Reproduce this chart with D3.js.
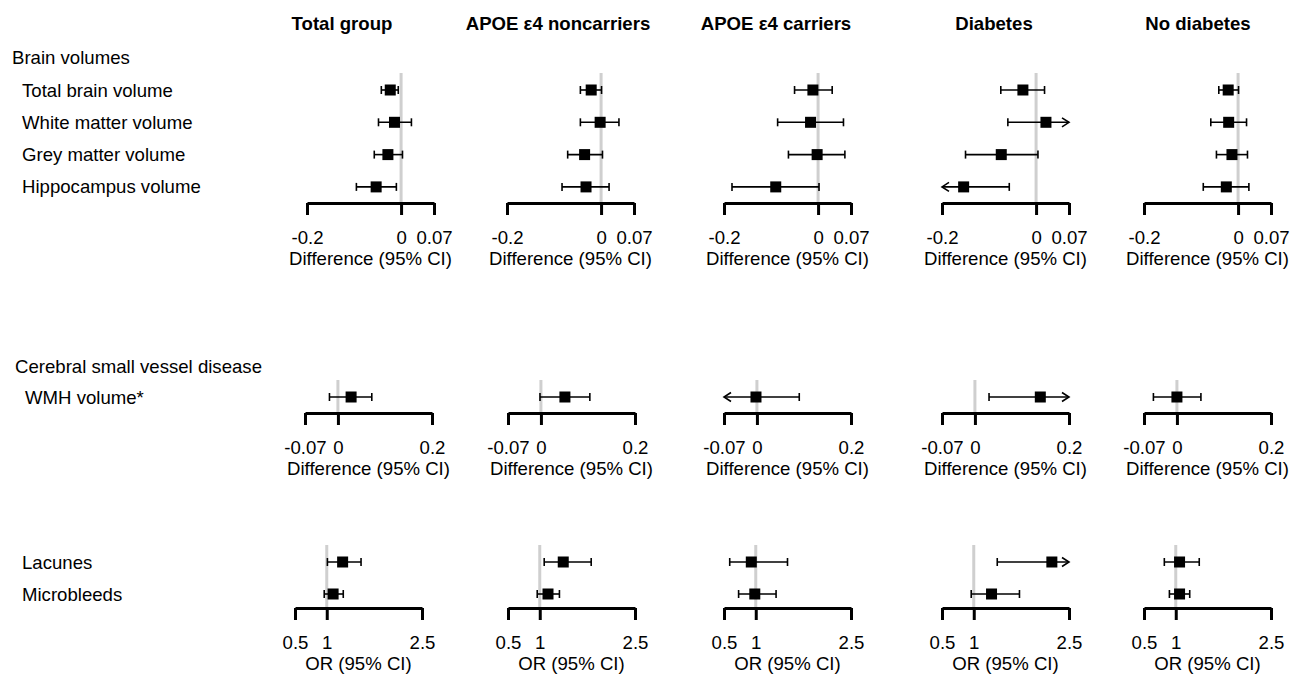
<!DOCTYPE html>
<html>
<head>
<meta charset="utf-8">
<script src="https://cdn.jsdelivr.net/npm/d3@7/dist/d3.min.js"></script>
<style>
  body { margin: 0; background: #fff; }
  text { font-family: "Liberation Sans", Arial, sans-serif; font-size: 18.6px; fill: #000; }
</style>
</head>
<body>
<script>
var width = 1301,
    height = 677;

// column groups
var groups = ["Total group", "APOE ε4 noncarriers", "APOE ε4 carriers", "Diabetes", "No diabetes"];

// brain volumes: one array per group, rows in brainRows order
var brainRows = ["Total brain volume", "White matter volume", "Grey matter volume", "Hippocampus volume"];
var brainEst = [
    [-0.023, -0.014, -0.028, -0.053],
    [-0.021, -0.002, -0.035, -0.032],
    [-0.011, -0.016, -0.002, -0.090],
    [-0.028, 0.021, -0.074, -0.154],
    [-0.021, -0.020, -0.013, -0.025]
];
var brainLo = [
    [-0.042, -0.048, -0.057, -0.095],
    [-0.044, -0.044, -0.071, -0.083],
    [-0.050, -0.086, -0.063, -0.183],
    [-0.075, -0.060, -0.150, -0.260],
    [-0.041, -0.058, -0.046, -0.074]
];
var brainHi = [
    [-0.006, 0.022, 0.003, -0.010],
    [0.001, 0.038, 0.003, 0.017],
    [0.030, 0.054, 0.057, 0.002],
    [0.018, 0.110, 0.004, -0.057],
    [0.001, 0.018, 0.020, 0.023]
];
var brainTicks = [-0.2, 0, 0.07];

// small vessel disease: WMH volume
var wmhRows = ["WMH volume*"];
var wmhEst = [[0.028], [0.051], [-0.002], [0.139], [0.000]];
var wmhLo = [[-0.018], [-0.002], [-0.090], [0.030], [-0.050]];
var wmhHi = [[0.072], [0.104], [0.090], [0.250], [0.051]];
var wmhTicks = [-0.07, 0, 0.2];

// lacunes and microbleeds (odds ratios)
var orRows = ["Lacunes", "Microbleeds"];
var orEst = [[1.25, 1.10], [1.37, 1.13], [0.93, 0.985], [2.23, 1.28], [1.06, 1.06]];
var orLo = [[1.01, 0.96], [1.07, 0.96], [0.59, 0.73], [1.37, 0.96], [0.82, 0.90]];
var orHi = [[1.54, 1.26], [1.81, 1.31], [1.50, 1.32], [2.90, 1.72], [1.37, 1.22]];
var orTicks = [0.5, 1, 2.5];

var titleCenters = [342, 558, 776, 994, 1198];
var panelWidth = 127;

var sections = [
    { heading: "Brain volumes", headX: 12, headY: 64, rows: brainRows, firstY: 90, step: 32.3, labelX: 22,
      est: brainEst, lo: brainLo, hi: brainHi, ticks: brainTicks, ref: 0, axisY: 203,
      xlab: "Difference (95% CI)", lefts: [307, 507, 724, 942, 1144] },
    { heading: "Cerebral small vessel disease", headX: 15, headY: 373, rows: wmhRows, firstY: 397, step: 32, labelX: 25,
      est: wmhEst, lo: wmhLo, hi: wmhHi, ticks: wmhTicks, ref: 0, axisY: 413,
      xlab: "Difference (95% CI)", lefts: [305, 508, 724, 942, 1144] },
    { heading: null, rows: orRows, firstY: 562, step: 32, labelX: 22,
      est: orEst, lo: orLo, hi: orHi, ticks: orTicks, ref: 1, axisY: 608,
      xlab: "OR (95% CI)", lefts: [295, 508, 724, 942, 1144] }
];

var svg = d3.select("body")
    .append("svg")
    .attr("width", width)
    .attr("height", height);

// column titles
svg.append("g")
    .selectAll("text")
    .data(groups)
    .enter().append("text")
    .attr("x", function (d, i) { return titleCenters[i]; })
    .attr("y", 30)
    .attr("text-anchor", "middle")
    .style("font-weight", "bold")
    .text(function (d) { return d; });

sections.forEach(function (s) {
    var y = d3.scalePoint()
        .domain(s.rows)
        .range([s.firstY, s.firstY + s.step * (s.rows.length - 1)]);

    if (s.heading) {
        svg.append("text")
            .attr("x", s.headX)
            .attr("y", s.headY)
            .text(s.heading);
    }

    svg.append("g")
        .selectAll("text")
        .data(s.rows)
        .enter().append("text")
        .attr("x", s.labelX)
        .attr("y", function (d) { return y(d) + 6.5; })
        .text(function (d) { return d; });

    groups.forEach(function (g, gi) {
        var x = d3.scaleLinear()
            .domain([s.ticks[0], s.ticks[s.ticks.length - 1]])
            .range([s.lefts[gi], s.lefts[gi] + panelWidth]);
        var lo = x.domain()[0], hi = x.domain()[1];

        var panel = svg.append("g");

        // reference line
        panel.append("line")
            .attr("x1", x(s.ref)).attr("x2", x(s.ref))
            .attr("y1", s.firstY - 17).attr("y2", s.axisY)
            .style("stroke", "#cfcfcf")
            .style("stroke-width", 3);

        var rows = s.rows.map(function (r, ri) {
            return { name: r, est: s.est[gi][ri], lo: s.lo[gi][ri], hi: s.hi[gi][ri] };
        });

        var row = panel.selectAll(".row")
            .data(rows)
            .enter().append("g")
            .attr("class", "row");

        row.append("line")
            .attr("x1", function (d) { return x(Math.max(d.lo, lo)); })
            .attr("x2", function (d) { return x(Math.min(d.hi, hi)); })
            .attr("y1", function (d) { return y(d.name); })
            .attr("y2", function (d) { return y(d.name); })
            .style("stroke", "#000")
            .style("stroke-width", 1.6);

        // caps, or arrows where the interval runs off the axis
        row.append("path")
            .attr("d", function (d) {
                var yy = y(d.name);
                if (d.lo < lo) {
                    var xl = x(lo);
                    return "M" + (xl + 7) + "," + (yy - 4.5) + "L" + xl + "," + yy + "L" + (xl + 7) + "," + (yy + 4.5);
                }
                return "M" + x(d.lo) + "," + (yy - 4) + "V" + (yy + 4);
            })
            .style("fill", "none")
            .style("stroke", "#000")
            .style("stroke-width", 1.6);

        row.append("path")
            .attr("d", function (d) {
                var yy = y(d.name);
                if (d.hi > hi) {
                    var xr = x(hi);
                    return "M" + (xr - 7) + "," + (yy - 4.5) + "L" + xr + "," + yy + "L" + (xr - 7) + "," + (yy + 4.5);
                }
                return "M" + x(d.hi) + "," + (yy - 4) + "V" + (yy + 4);
            })
            .style("fill", "none")
            .style("stroke", "#000")
            .style("stroke-width", 1.6);

        row.append("rect")
            .attr("x", function (d) { return x(d.est) - 5.5; })
            .attr("y", function (d) { return y(d.name) - 5.5; })
            .attr("width", 11)
            .attr("height", 11)
            .style("fill", "#000");

        // axis
        var ax = panel.append("g")
            .attr("transform", "translate(0," + s.axisY + ")")
            .call(d3.axisBottom(x)
                .tickValues(s.ticks)
                .tickSize(12)
                .tickSizeOuter(0)
                .tickPadding(16)
                .tickFormat(function (d) { return String(d); }));
        ax.attr("font-family", null).attr("font-size", null);
        ax.select(".domain").style("stroke", "#000").style("stroke-width", 3);
        ax.selectAll(".tick line").style("stroke", "#000").style("stroke-width", 3);
        ax.selectAll(".tick text").style("fill", "#000");

        panel.append("text")
            .attr("x", s.lefts[gi] + panelWidth / 2)
            .attr("y", s.axisY + 62)
            .attr("text-anchor", "middle")
            .text(s.xlab);
    });
});
</script>
</body>
</html>
